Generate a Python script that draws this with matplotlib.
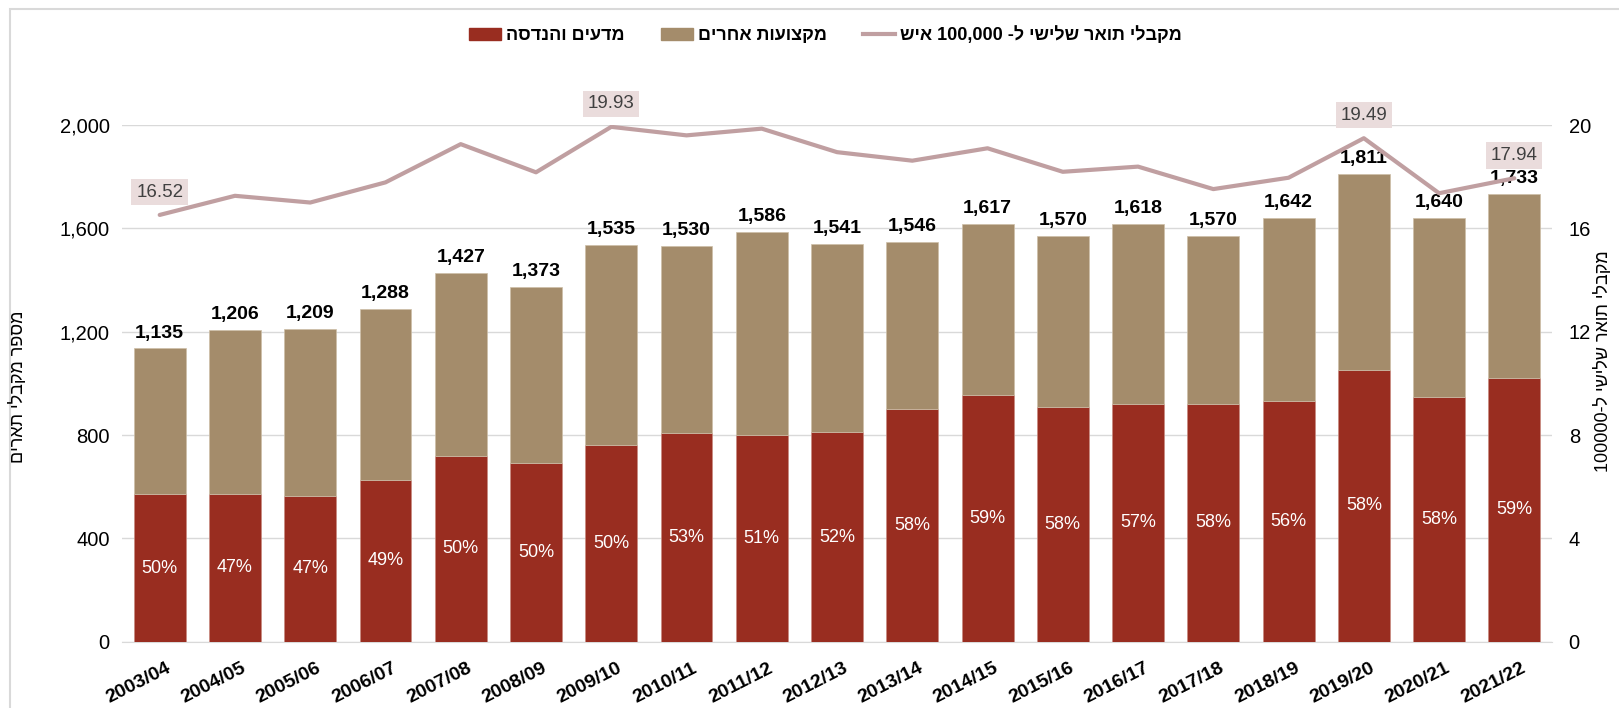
import re
import numpy as np
import matplotlib
matplotlib.use("Agg")
import matplotlib.pyplot as plt
import matplotlib.transforms as mtransforms
from matplotlib.patches import Patch, Rectangle
from matplotlib.lines import Line2D
from matplotlib.ticker import FuncFormatter

plt.rcParams['font.family'] = ['Liberation Sans', 'DejaVu Sans']

# === data ===
years = ['2003/04', '2004/05', '2005/06', '2006/07', '2007/08', '2008/09', '2009/10',
         '2010/11', '2011/12', '2012/13', '2013/14', '2014/15', '2015/16', '2016/17',
         '2017/18', '2018/19', '2019/20', '2020/21', '2021/22']
totals = [1135, 1206, 1209, 1288, 1427, 1373, 1535, 1530, 1586, 1541,
          1546, 1617, 1570, 1618, 1570, 1642, 1811, 1640, 1733]
sci_eng = [570, 573, 563, 626, 718, 692, 763, 808, 800, 810,
           900, 953, 910, 920, 920, 930, 1051, 946, 1021]
other = [565, 633, 646, 662, 709, 681, 772, 722, 786, 731,
         646, 664, 660, 698, 650, 712, 760, 694, 712]
sci_pct = [50, 47, 47, 49, 50, 50, 50, 53, 51, 52, 58, 59, 58, 57, 58, 56, 58, 58, 59]
rate = [16.52, 17.26, 17.00, 17.78, 19.26, 18.17, 19.93, 19.60, 19.86, 18.95,
        18.62, 19.10, 18.19, 18.39, 17.52, 17.96, 19.49, 17.36, 17.94]
rate_labeled = [0, 6, 16, 18]

lbl_sci = 'מדעים והנדסה'
lbl_other = 'מקצועות אחרים'
lbl_rate = 'מקבלי תואר שלישי ל- 100,000 איש'
ylabel_left = 'מספר מקבלי תארים'
ylabel_right = 'מקבלי תואר שלישי ל-100000'

RED = '#992D20'
TAN = '#A48C6B'
LINE = '#C09FA1'
BOX = '#EADCDC'
GRID = '#D9D9D9'


def rtl(s):
    # matplotlib has no bidi: flip the string, keep number runs readable
    r = s[::-1]
    return re.sub(r'[\d][\d,.]*', lambda m: m.group(0)[::-1], r)


fig = plt.figure(figsize=(16.19, 7.08), dpi=100)
ax = fig.add_axes([0.0754, 0.0937, 0.8832, 0.7297])
ax2 = ax.twinx()

x = np.arange(len(years))
w = 0.69
ax.bar(x, sci_eng, w, color=RED, edgecolor='#C98A80', linewidth=0.5, zorder=3)
ax.bar(x, other, w, bottom=sci_eng, color=TAN, edgecolor='#CDBFA8', linewidth=0.5, zorder=3)

for i in range(len(years)):
    ax.text(x[i], sci_eng[i] / 2, f'{sci_pct[i]}%', color='white', fontsize=13,
            ha='center', va='center', zorder=4)
    ax.annotate(f'{totals[i]:,}', (x[i], totals[i]), xytext=(0, 5),
                textcoords='offset points', ha='center', va='bottom',
                fontsize=14, fontweight='bold', zorder=5)

ax.set_xlim(-0.5, len(years) - 0.5)
ax.set_ylim(0, 2000)
ax.set_yticks(range(0, 2001, 400))
ax.yaxis.set_major_formatter(FuncFormatter(lambda v, p: f'{int(v):,}'))
ax.grid(axis='y', color=GRID, linewidth=1, zorder=0)
ax.set_axisbelow(True)
ax.set_xticks(x)
ax.set_xticklabels(years, rotation=27, ha='right', rotation_mode='anchor',
                   fontsize=14, fontweight='bold')
ax.tick_params(axis='x', length=0, pad=13)
shift = mtransforms.ScaledTranslation(6 / 100, 0, fig.dpi_scale_trans)
for t in ax.get_xticklabels():
    t.set_transform(t.get_transform() + shift)
ax.tick_params(axis='y', length=0, labelsize=14.5, pad=9)

ax2.plot(x, rate, color=LINE, linewidth=3, zorder=6, solid_capstyle='round')
ax2.set_ylim(0, 20)
ax2.set_yticks(range(0, 21, 4))
ax2.tick_params(axis='y', length=0, labelsize=14.5, pad=12)
for i in rate_labeled:
    ax2.annotate(f'{rate[i]:.2f}', (x[i], rate[i]), xytext=(0, 16.5),
                 textcoords='offset points', ha='center', va='center',
                 fontsize=13.5, color='#404040', zorder=7,
                 bbox=dict(boxstyle='square,pad=0.25', fc=BOX, ec='none'))

for a in (ax, ax2):
    for sp in a.spines.values():
        sp.set_visible(False)
ax.spines['bottom'].set_visible(True)
ax.spines['bottom'].set_color(GRID)

fig.text(0.011, 0.453, rtl(ylabel_left), rotation=90, ha='center', va='center', fontsize=13)
fig.text(0.990, 0.49, rtl(ylabel_right), rotation=90, ha='center', va='center', fontsize=13)

handles = [Patch(color=RED), Patch(color=TAN), Line2D([], [], color=LINE, linewidth=3)]
ax.legend(handles, [rtl(lbl_sci), rtl(lbl_other), rtl(lbl_rate)], ncol=3,
          loc='center', bbox_to_anchor=(0.51, 0.95), bbox_transform=fig.transFigure,
          frameon=False, prop={'size': 13, 'weight': 'bold'},
          handlelength=1.75, handleheight=0.7, handletextpad=0.3, columnspacing=2.0)

# chart area border (partly cut by the image edge)
fig.patches.append(Rectangle((0.0062, -0.05), 1.2, 1.037, transform=fig.transFigure,
                             fill=False, ec=GRID, lw=1.5))

fig.savefig('out.png', dpi=100)
